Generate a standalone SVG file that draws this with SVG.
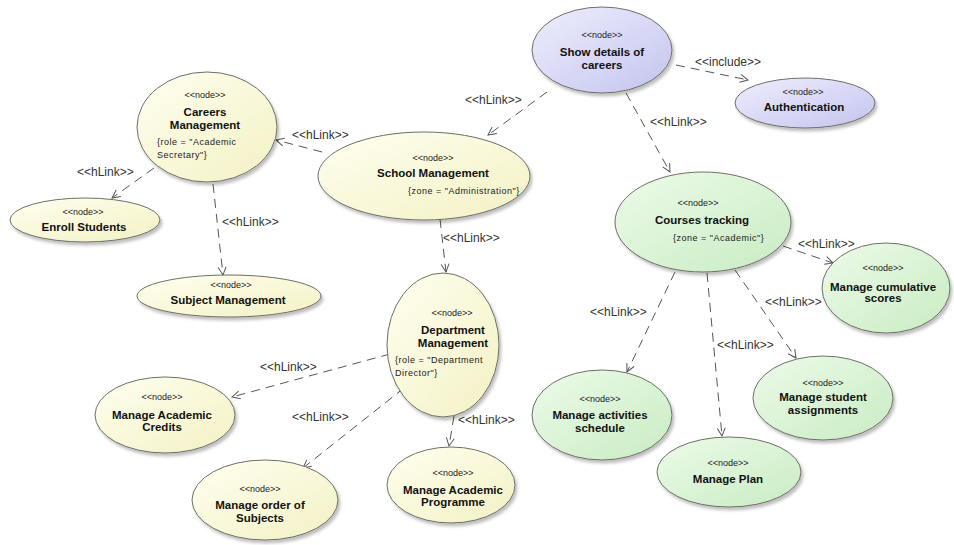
<svg xmlns="http://www.w3.org/2000/svg" width="954" height="545" viewBox="0 0 954 545">
  <defs>
    <linearGradient id="gYellow" x1="0" y1="0" x2="1" y2="1">
      <stop offset="0" stop-color="#fffff0"/>
      <stop offset="1" stop-color="#f3f1c4"/>
    </linearGradient>
    <linearGradient id="gGreen" x1="0" y1="0" x2="1" y2="1">
      <stop offset="0" stop-color="#edfbe9"/>
      <stop offset="1" stop-color="#c8ecc2"/>
    </linearGradient>
    <linearGradient id="gBlue" x1="0" y1="0" x2="1" y2="1">
      <stop offset="0" stop-color="#eeeefd"/>
      <stop offset="1" stop-color="#c4c4ef"/>
    </linearGradient>
    <filter id="shadow" x="-20%" y="-20%" width="150%" height="150%">
      <feDropShadow dx="2" dy="3" stdDeviation="1.5" flood-color="#000" flood-opacity="0.25"/>
    </filter>
    <marker id="open" viewBox="-9 -6 10 12" refX="0" refY="0" markerWidth="10" markerHeight="12" markerUnits="userSpaceOnUse" orient="auto">
      <path d="M-8,-4 L0,0 L-8,4" fill="none" stroke="#555" stroke-width="1"/>
    </marker>
    <style>
      .y { fill: url(#gYellow); }
      .g { fill: url(#gGreen); }
      .b { fill: url(#gBlue); }
      ellipse { stroke: #6e6e66; stroke-width: 1; filter: url(#shadow); }
      text { font-family: "Liberation Sans", Arial, sans-serif; fill: #111; }
      .st { font-size: 9px; text-anchor: middle; fill: #222; }
      .nm { font-size: 11.5px; font-weight: bold; text-anchor: middle; }
      .cs { font-size: 9px; letter-spacing: 0.5px; fill: #222; }
      .lb { font-size: 12px; fill: #333; }
      .ln { fill: none; stroke: #555; stroke-width: 1; stroke-dasharray: 9 6; marker-end: url(#open); }
    </style>
  </defs>

  <rect width="954" height="545" fill="#fff"/>

  <!-- connectors -->
  <g id="connectors">
    <line class="ln" x1="547" y1="92" x2="488" y2="135"/>
    <text class="lb" x="465" y="104">&lt;&lt;hLink&gt;&gt;</text>

    <line class="ln" x1="676" y1="65" x2="748" y2="80"/>
    <text class="lb" x="695" y="66">&lt;&lt;include&gt;&gt;</text>

    <line class="ln" x1="626" y1="93" x2="670" y2="172"/>
    <text class="lb" x="650" y="126">&lt;&lt;hLink&gt;&gt;</text>

    <line class="ln" x1="322" y1="152" x2="276" y2="140"/>
    <text class="lb" x="292" y="139">&lt;&lt;hLink&gt;&gt;</text>

    <line class="ln" x1="154" y1="168" x2="112" y2="198"/>
    <text class="lb" x="77" y="176">&lt;&lt;hLink&gt;&gt;</text>

    <line class="ln" x1="213" y1="184" x2="223" y2="275"/>
    <text class="lb" x="222" y="226">&lt;&lt;hLink&gt;&gt;</text>

    <line class="ln" x1="440" y1="219" x2="446" y2="272"/>
    <text class="lb" x="443" y="242">&lt;&lt;hLink&gt;&gt;</text>

    <line class="ln" x1="390" y1="354" x2="232" y2="397"/>
    <text class="lb" x="260" y="371">&lt;&lt;hLink&gt;&gt;</text>

    <line class="ln" x1="404" y1="388" x2="303" y2="468"/>
    <text class="lb" x="292" y="421">&lt;&lt;hLink&gt;&gt;</text>

    <line class="ln" x1="454" y1="416" x2="449" y2="446"/>
    <text class="lb" x="458" y="424">&lt;&lt;hLink&gt;&gt;</text>

    <line class="ln" x1="783" y1="246" x2="833" y2="263"/>
    <text class="lb" x="798" y="248">&lt;&lt;hLink&gt;&gt;</text>

    <line class="ln" x1="675" y1="272" x2="627" y2="372"/>
    <text class="lb" x="590" y="316">&lt;&lt;hLink&gt;&gt;</text>

    <line class="ln" x1="707" y1="273" x2="722" y2="436"/>
    <text class="lb" x="717" y="349">&lt;&lt;hLink&gt;&gt;</text>

    <line class="ln" x1="735" y1="270" x2="796" y2="358"/>
    <text class="lb" x="765" y="306">&lt;&lt;hLink&gt;&gt;</text>
  </g>

  <!-- nodes -->
  <g id="n_show">
    <ellipse class="b" cx="602" cy="50" rx="70" ry="43"/>
    <text class="st" x="602" y="38">&lt;&lt;node&gt;&gt;</text>
    <text class="nm" x="602" y="56">Show details of</text>
    <text class="nm" x="602" y="69">careers</text>
  </g>

  <g id="n_auth">
    <ellipse class="b" cx="805" cy="103" rx="70" ry="25"/>
    <text class="st" x="803" y="95">&lt;&lt;node&gt;&gt;</text>
    <text class="nm" x="804" y="111">Authentication</text>
  </g>

  <g id="n_careers">
    <ellipse class="y" cx="207" cy="127" rx="70" ry="55"/>
    <text class="st" x="205" y="98">&lt;&lt;node&gt;&gt;</text>
    <text class="nm" x="205" y="116">Careers</text>
    <text class="nm" x="205" y="129">Management</text>
    <text class="cs" x="157" y="145">{role = "Academic</text>
    <text class="cs" x="157" y="158">Secretary"}</text>
  </g>

  <g id="n_enroll">
    <ellipse class="y" cx="85" cy="220" rx="75" ry="22"/>
    <text class="st" x="83" y="215">&lt;&lt;node&gt;&gt;</text>
    <text class="nm" x="84" y="231">Enroll Students</text>
  </g>

  <g id="n_subject">
    <ellipse class="y" cx="229" cy="296" rx="92" ry="21"/>
    <text class="st" x="231" y="288">&lt;&lt;node&gt;&gt;</text>
    <text class="nm" x="228" y="304">Subject Management</text>
  </g>

  <g id="n_school">
    <ellipse class="y" cx="424" cy="176" rx="106" ry="44"/>
    <text class="st" x="433" y="161">&lt;&lt;node&gt;&gt;</text>
    <text class="nm" x="433" y="177">School Management</text>
    <text class="cs" x="408" y="194">{zone = "Administration"}</text>
  </g>

  <g id="n_dept">
    <ellipse class="y" cx="443" cy="345" rx="56" ry="72"/>
    <text class="st" x="452" y="316">&lt;&lt;node&gt;&gt;</text>
    <text class="nm" x="453" y="334">Department</text>
    <text class="nm" x="453" y="347">Management</text>
    <text class="cs" x="395" y="363">{role = "Department</text>
    <text class="cs" x="395" y="376">Director"}</text>
  </g>

  <g id="n_programme">
    <ellipse class="y" cx="451" cy="485" rx="64" ry="38"/>
    <text class="st" x="453" y="476">&lt;&lt;node&gt;&gt;</text>
    <text class="nm" x="453" y="494">Manage Academic</text>
    <text class="nm" x="453" y="506">Programme</text>
  </g>

  <g id="n_credits">
    <ellipse class="y" cx="165" cy="415" rx="70" ry="38"/>
    <text class="st" x="162" y="400">&lt;&lt;node&gt;&gt;</text>
    <text class="nm" x="162" y="419">Manage Academic</text>
    <text class="nm" x="162" y="431">Credits</text>
  </g>

  <g id="n_order">
    <ellipse class="y" cx="265" cy="500" rx="73" ry="40"/>
    <text class="st" x="260" y="492">&lt;&lt;node&gt;&gt;</text>
    <text class="nm" x="260" y="509">Manage order of</text>
    <text class="nm" x="260" y="522">Subjects</text>
  </g>

  <g id="n_courses">
    <ellipse class="g" cx="703" cy="222" rx="88" ry="50"/>
    <text class="st" x="698" y="206">&lt;&lt;node&gt;&gt;</text>
    <text class="nm" x="702" y="224">Courses tracking</text>
    <text class="cs" x="673" y="241">{zone = "Academic"}</text>
  </g>

  <g id="n_cumulative">
    <ellipse class="g" cx="886" cy="288" rx="64" ry="45"/>
    <text class="st" x="883" y="271">&lt;&lt;node&gt;&gt;</text>
    <text class="nm" x="883" y="291">Manage cumulative</text>
    <text class="nm" x="883" y="302">scores</text>
  </g>

  <g id="n_activities">
    <ellipse class="g" cx="602" cy="415" rx="70" ry="45"/>
    <text class="st" x="600" y="402">&lt;&lt;node&gt;&gt;</text>
    <text class="nm" x="600" y="419">Manage activities</text>
    <text class="nm" x="600" y="432">schedule</text>
  </g>

  <g id="n_plan">
    <ellipse class="g" cx="729" cy="472" rx="72" ry="35"/>
    <text class="st" x="728" y="466">&lt;&lt;node&gt;&gt;</text>
    <text class="nm" x="728" y="483">Manage Plan</text>
  </g>

  <g id="n_assign">
    <ellipse class="g" cx="823" cy="398" rx="70" ry="42"/>
    <text class="st" x="823" y="386">&lt;&lt;node&gt;&gt;</text>
    <text class="nm" x="823" y="401">Manage student</text>
    <text class="nm" x="823" y="414">assignments</text>
  </g>
</svg>
